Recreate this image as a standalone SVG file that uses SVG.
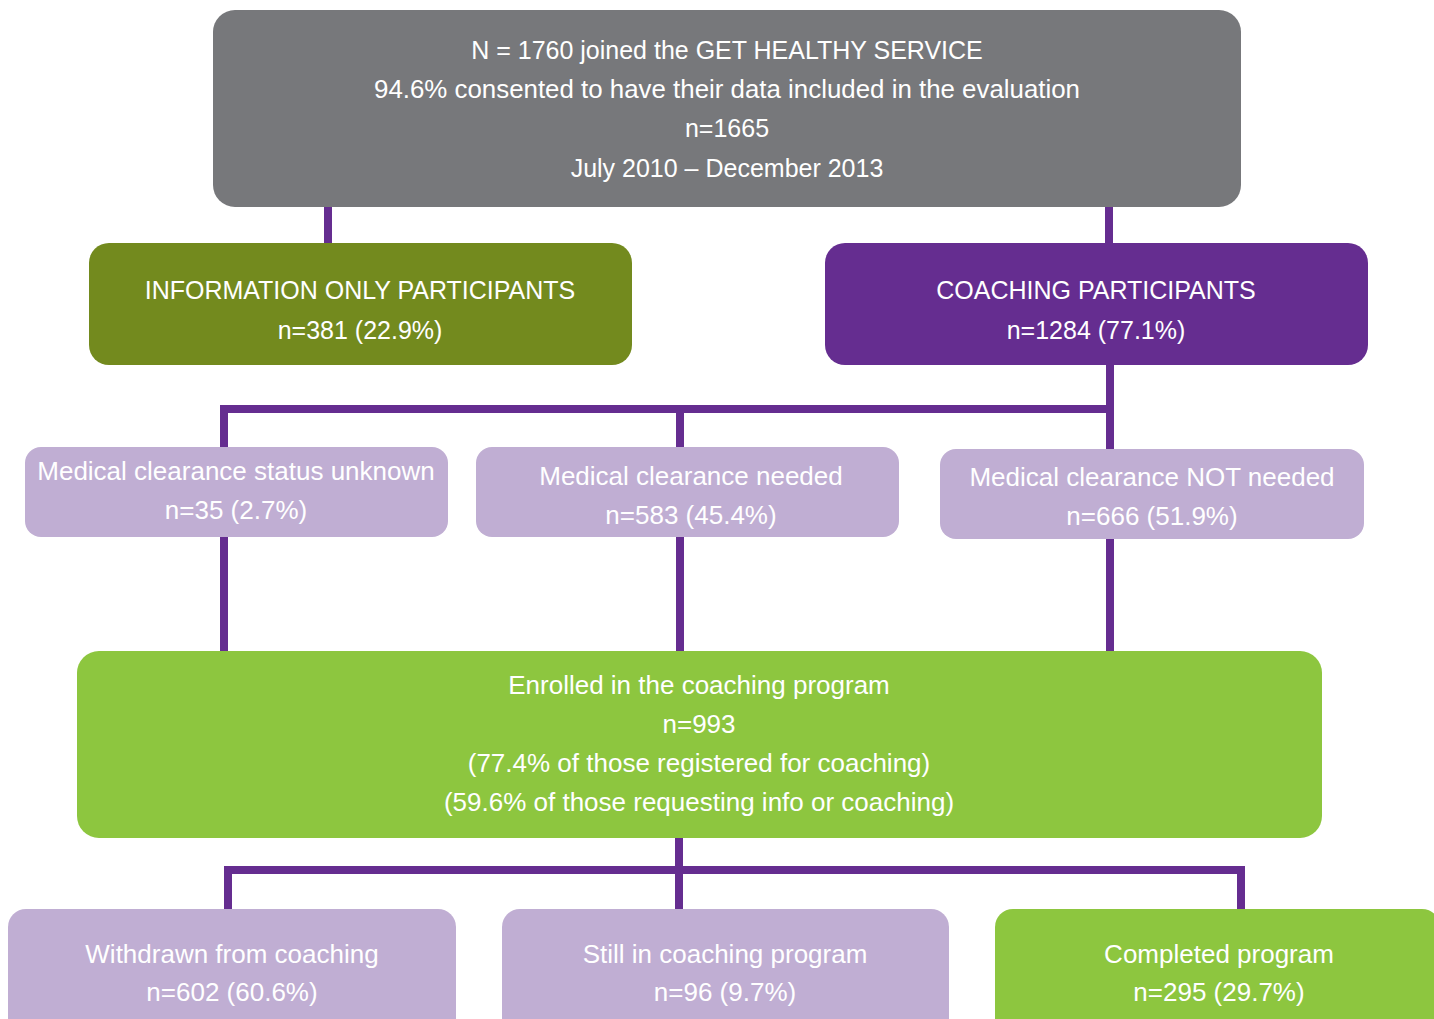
<svg xmlns="http://www.w3.org/2000/svg" width="1434" height="1019" viewBox="0 0 1434 1019">
<style>
.t{font-family:"Liberation Sans",Arial,Helvetica,sans-serif;fill:#ffffff;text-anchor:middle}
.s25{font-size:25px}
.s26{font-size:26px}
.lav{fill:#c0aed3}
.grn{fill:#8dc63f}
.con{fill:none;stroke:#652d90;stroke-width:8;stroke-linejoin:miter;stroke-linecap:butt}
</style>
<rect width="1434" height="1019" fill="#ffffff"/>
<g id="connectors">
<path class="con" d="M328 205V245"/>
<path class="con" d="M1109 205V245"/>
<path class="con" d="M1110 363V653"/>
<path class="con" d="M224 653V409H1110"/>
<path class="con" d="M680 409V653"/>
<path class="con" d="M679 836V912"/>
<path class="con" d="M228 912V870H1241V912"/>
</g>
<g id="top">
<rect x="213" y="10" width="1028" height="197" rx="22" fill="#77787b"/>
<text class="t s25" x="727" y="59">N = 1760 joined the GET HEALTHY SERVICE</text>
<text class="t s25" x="727" y="98" textLength="706" lengthAdjust="spacingAndGlyphs">94.6% consented to have their data included in the evaluation</text>
<text class="t s25" x="727" y="137">n=1665</text>
<text class="t s25" x="727" y="177">July 2010 – December 2013</text>
</g>
<g id="info">
<rect x="89" y="243" width="543" height="122" rx="20" fill="#738a1e"/>
<text class="t s25" x="360" y="299">INFORMATION ONLY PARTICIPANTS</text>
<text class="t s25" x="360" y="339">n=381 (22.9%)</text>
</g>
<g id="coaching">
<rect x="825" y="243" width="543" height="122" rx="20" fill="#652d90"/>
<text class="t s25" x="1096" y="299">COACHING PARTICIPANTS</text>
<text class="t s25" x="1096" y="339">n=1284 (77.1%)</text>
</g>
<g id="med-unknown">
<rect class="lav" x="25" y="447" width="423" height="90" rx="16"/>
<text class="t s26" x="236" y="480">Medical clearance status unknown</text>
<text class="t s26" x="236" y="519">n=35 (2.7%)</text>
</g>
<g id="med-needed">
<rect class="lav" x="476" y="447" width="423" height="90" rx="16"/>
<text class="t s26" x="691" y="485">Medical clearance needed</text>
<text class="t s26" x="691" y="524">n=583 (45.4%)</text>
</g>
<g id="med-not-needed">
<rect class="lav" x="940" y="449" width="424" height="90" rx="16"/>
<text class="t s26" x="1152" y="486">Medical clearance NOT needed</text>
<text class="t s26" x="1152" y="525">n=666 (51.9%)</text>
</g>
<g id="enrolled">
<rect class="grn" x="77" y="651" width="1245" height="187" rx="22"/>
<text class="t s26" x="699" y="694">Enrolled in the coaching program</text>
<text class="t s26" x="699" y="733">n=993</text>
<text class="t s26" x="699" y="772">(77.4% of those registered for coaching)</text>
<text class="t s26" x="699" y="811">(59.6% of those requesting info or coaching)</text>
</g>
<g id="withdrawn">
<rect class="lav" x="8" y="909" width="448" height="140" rx="18"/>
<text class="t s26" x="232" y="963">Withdrawn from coaching</text>
<text class="t s26" x="232" y="1001">n=602 (60.6%)</text>
</g>
<g id="still">
<rect class="lav" x="502" y="909" width="447" height="140" rx="18"/>
<text class="t s26" x="725" y="963">Still in coaching program</text>
<text class="t s26" x="725" y="1001">n=96 (9.7%)</text>
</g>
<g id="completed">
<rect class="grn" x="995" y="909" width="445" height="140" rx="18"/>
<text class="t s26" x="1219" y="963">Completed program</text>
<text class="t s26" x="1219" y="1001">n=295 (29.7%)</text>
</g>
</svg>
